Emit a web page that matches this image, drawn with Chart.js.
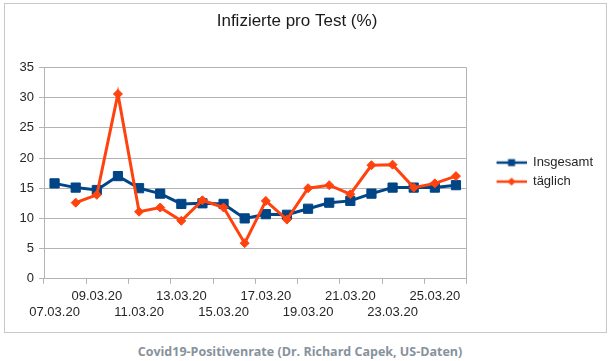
<!DOCTYPE html>
<html><head><meta charset="utf-8">
<script src="https://cdn.jsdelivr.net/npm/chart.js@4/dist/chart.umd.min.js"></script>
<style>
html,body{margin:0;padding:0;background:#fff;width:613px;height:361px;overflow:hidden;}
#frame{position:absolute;left:4px;top:3px;width:601px;height:328px;border:1px solid #c8c8c8;}
#frame canvas{display:block;}
#caption{position:absolute;left:0;width:600px;top:343px;text-align:center;font-family:"Open Sans";font-weight:bold;font-size:12.5px;color:#87929c;white-space:nowrap;}
</style></head><body>
<div id="frame"><canvas id="c" width="601" height="328" style="width:601px;height:328px"></canvas></div>
<div id="caption">Covid19-Positivenrate (Dr. Richard Capek, US-Daten)</div>
<script>
const dates = ['07.03.20','08.03.20','09.03.20','10.03.20','11.03.20','12.03.20','13.03.20','14.03.20','15.03.20','16.03.20',
               '17.03.20','18.03.20','19.03.20','20.03.20','21.03.20','22.03.20','23.03.20','24.03.20','25.03.20','26.03.20'];
const insgesamt = [15.8, 15.1, 14.7, 17.0, 15.0, 14.1, 12.4, 12.5, 12.4, 10.0, 10.7, 10.6, 11.6, 12.6, 12.9, 14.1, 15.1, 15.1, 15.1, 15.5];
const taeglich  = [null, 12.6, 13.9, 30.6, 11.1, 11.8, 9.6, 13.0, 11.8, 5.9, 12.9, 9.8, 15.0, 15.5, 14.0, 18.8, 18.9, 15.1, 15.8, 17.0];
const seriesNames = ['Insgesamt', 'täglich'];
const titleText = 'Infizierte pro Test (%)';
const yMin = 0, yMax = 35, yStep = 5;

const BLUE = '#004586', ORANGE = '#ff420e', GRID = '#b3b3b3', TXT = '#262626', NONE = 'rgba(0,0,0,0)';
const FONT = 'Liberation Sans, Arial, sans-serif';
const ICON_W = 54;

function legendIcon(color, shape) {
  const c = document.createElement('canvas');
  c.width = ICON_W; c.height = 12;
  const g = c.getContext('2d');
  const x0 = ICON_W - 30;
  g.strokeStyle = color; g.lineWidth = 2.5;
  g.beginPath(); g.moveTo(x0, 6); g.lineTo(x0 + 30, 6); g.stroke();
  g.fillStyle = color;
  const cx = x0 + 15;
  if (shape === 'rect') { g.fillRect(cx - 3.5, 2.5, 7, 7); }
  else { g.beginPath(); g.moveTo(cx, 2); g.lineTo(cx + 4, 6); g.lineTo(cx, 10); g.lineTo(cx - 4, 6); g.closePath(); g.fill(); }
  return c;
}
const icons = [legendIcon(BLUE, 'rect'), legendIcon(ORANGE, 'diamond')];

const nudge = {
  id: 'nudge',
  afterLayout(chart) {
    const t = chart.titleBlock;
    if (t) { t.left -= 7; t.right -= 7; }
    const l = chart.legend;
    if (l) { l.top -= 1; l.bottom -= 1; }
  }
};

new Chart(document.getElementById('c'), {
  type: 'line',
  data: {
    labels: dates,
    datasets: [
      { label: seriesNames[0], data: insgesamt, borderColor: BLUE, backgroundColor: BLUE, borderWidth: 3,
        pointStyle: 'rect', pointRadius: 6.5, pointBorderWidth: 1, pointBackgroundColor: BLUE, pointBorderColor: BLUE,
        tension: 0, order: 1 },
      { label: seriesNames[1], data: taeglich, borderColor: ORANGE, backgroundColor: ORANGE, borderWidth: 3,
        pointStyle: 'rectRot', pointRadius: 4.5, pointBorderWidth: 1, pointBackgroundColor: ORANGE, pointBorderColor: ORANGE,
        tension: 0, order: 0 }
    ]
  },
  options: {
    responsive: false,
    animation: false,
    events: [],
    layout: { padding: { left: 0, right: 3, top: 0, bottom: 7 } },
    plugins: {
      title: { display: true, text: titleText, color: '#1a1a1a', font: { family: FONT, size: 17, weight: 'normal' },
               padding: { top: 7, bottom: 36 } },
      legend: {
        position: 'right', align: 'center', fullSize: false,
        labels: {
          usePointStyle: true, pointStyleWidth: ICON_W, padding: 6, color: TXT,
          font: { family: FONT, size: 13 },
          generateLabels(chart) {
            const items = Chart.defaults.plugins.legend.labels.generateLabels(chart);
            items.sort((a, b) => a.datasetIndex - b.datasetIndex);
            items.forEach(it => { it.pointStyle = icons[it.datasetIndex]; });
            return items;
          }
        }
      },
      tooltip: { enabled: false }
    },
    scales: {
      x: {
        type: 'category', offset: true,
        grid: { display: true, drawOnChartArea: true, offset: true, tickLength: 5,
                color: ctx => (ctx.index === undefined) ? GRID : NONE,
                tickColor: ctx => (ctx.index === undefined || ctx.index % 2 === 0) ? GRID : NONE },
        border: { display: true, color: GRID },
        ticks: { autoSkip: false, maxRotation: 0, minRotation: 0, padding: 5, color: TXT,
                 font: { family: FONT, size: 13 },
                 callback(v, i) {
                   if (i % 4 === 0) return ['', dates[i]];
                   if (i % 4 === 2) return [dates[i], ''];
                   return '';
                 } }
      },
      y: {
        min: yMin, max: yMax,
        afterFit(s) { s.width = 39; },
        grid: { color: GRID, tickLength: 5, tickColor: GRID },
        border: { display: true, color: GRID },
        ticks: { stepSize: yStep, padding: 5, color: TXT, font: { family: FONT, size: 13 } }
      }
    }
  },
  plugins: [nudge]
});
</script>
</body></html>
